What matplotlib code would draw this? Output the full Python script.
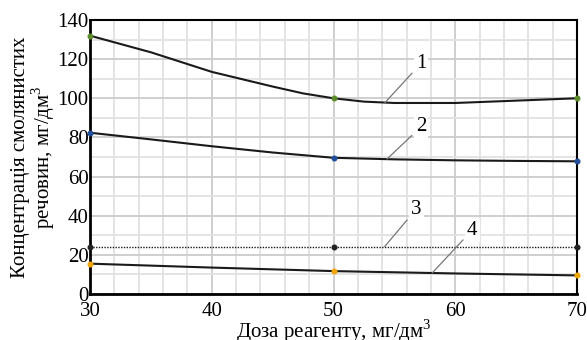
import matplotlib
matplotlib.use("Agg")
import matplotlib.pyplot as plt
from matplotlib.ticker import MultipleLocator

plt.rcParams['font.family'] = ['Liberation Serif', 'DejaVu Serif']
plt.rcParams['mathtext.fontset'] = 'custom'
plt.rcParams['mathtext.rm'] = 'Liberation Serif'

# Data
x1 = [30, 35, 40, 45, 47.5, 50, 52.5, 55, 60, 65, 70]
y1 = [132, 123.5, 113.5, 106, 102.5, 100, 98.3, 97.6, 97.6, 98.8, 100]
x2 = [30, 35, 40, 45, 50, 55, 60, 65, 70]
y2 = [82.4, 79, 75.5, 72.3, 69.6, 68.8, 68.3, 68, 67.8]
x3 = [30, 50, 70]
y3 = [24.2, 24.2, 24.2]
x4 = [30, 40, 50, 60, 70]
y4 = [15.5, 13.5, 11.7, 10.5, 9.5]
marker_x = [30, 50, 70]
curve_labels = ['1', '2', '3', '4']
xlabel = 'Доза реагенту, мг/дм$^3$'
ylabel = 'Концентрація смолянистих\nречовин, мг/дм$^3$'

fig = plt.figure(figsize=(5.87, 3.4), dpi=100)
ax = fig.add_axes([90/587, 46/340, 487/587, 274/340])

ax.set_xlim(30, 70)
ax.set_ylim(0, 140)
ax.xaxis.set_major_locator(MultipleLocator(10))
ax.xaxis.set_minor_locator(MultipleLocator(2))
ax.yaxis.set_major_locator(MultipleLocator(20))
ax.yaxis.set_minor_locator(MultipleLocator(10))
ax.grid(which='minor', color='#e2e2e2', lw=1.3)
ax.grid(which='major', color='#cccccc', lw=1.3)
ax.set_axisbelow(True)
ax.tick_params(which='both', length=0, labelsize=15)
ax.tick_params(axis='y', pad=1)
ax.tick_params(axis='x', pad=6)

for s in ['left', 'bottom']:
    ax.spines[s].set_linewidth(2.0)
for s in ['top', 'right']:
    ax.spines[s].set_linewidth(1.5)

ax.plot(x1, y1, color='#1a1a1a', lw=1.5, zorder=3)
ax.plot(x2, y2, color='#1a1a1a', lw=1.5, zorder=3)
ax.plot(x3, y3, color='#1a1a1a', lw=1.0, ls=(0, (1, 1)), zorder=3)
ax.plot(x4, y4, color='#1a1a1a', lw=1.5, zorder=3)

def vals_at(xs, ys, pts):
    return [ys[xs.index(p)] for p in pts]

ms = 11
ax.scatter(marker_x, vals_at(x1, y1, marker_x), s=ms, color='#5b8c2a', zorder=4, clip_on=False)
ax.scatter(marker_x, vals_at(x2, y2, marker_x), s=ms, color='#1f4e9a', zorder=4, clip_on=False)
ax.scatter(marker_x, vals_at(x3, y3, marker_x), s=ms, color='#222222', zorder=4, clip_on=False)
ax.scatter(marker_x, vals_at(x4, y4, marker_x), s=ms, color='#f0a500', zorder=4, clip_on=False)

ann = [((54.2, 97.6), (57.2, 117.9)),
       ((54.4, 69.0), (57.2, 85.5)),
       ((54.2, 24.2), (56.8, 43.4)),
       ((58.1, 10.7), (61.4, 32.7))]
for lab, (xy, xt) in zip(curve_labels, ann):
    ax.annotate(lab, xy=xy, xytext=xt, fontsize=15, ha='center', va='center',
                bbox=dict(boxstyle='square,pad=0.1', fc='white', ec='none'),
                arrowprops=dict(arrowstyle='-', color='#777777', lw=0.9,
                                shrinkA=2, shrinkB=0), zorder=5)

ax.set_xlabel(xlabel, fontsize=15, labelpad=-3)
ax.set_ylabel(ylabel, fontsize=15, labelpad=0, linespacing=1.0)

fig.savefig('out.png', dpi=100)
